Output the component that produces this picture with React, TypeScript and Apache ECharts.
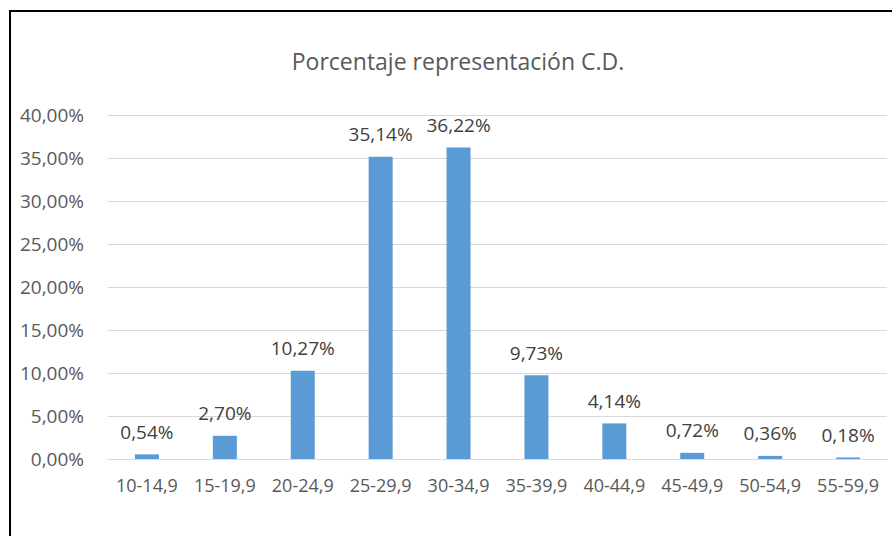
import React, { useEffect, useRef } from "react";
import * as echarts from "echarts";

const categories = ["10-14,9", "15-19,9", "20-24,9", "25-29,9", "30-34,9", "35-39,9", "40-44,9", "45-49,9", "50-54,9", "55-59,9"];
const values = [0.54, 2.7, 10.27, 35.14, 36.22, 9.73, 4.14, 0.72, 0.36, 0.18];
const titleText = "Porcentaje representación C.D.";

const fmt = (v: number) => v.toFixed(2).replace(".", ",") + "%";

export default function App() {
  const ref = useRef<HTMLDivElement>(null);
  useEffect(() => {
    const chart = echarts.init(ref.current!, undefined, { renderer: "svg" });
    const font = "Open Sans";
    chart.setOption({
      animation: false,
      backgroundColor: "#ffffff",
      textStyle: { fontFamily: font },
      title: {
        text: titleText,
        left: 453,
        top: 44,
        textAlign: "center",
        textStyle: { fontFamily: font, fontSize: 23, fontWeight: "normal", color: "#595959" },
      },
      graphic: [
        {
          type: "rect",
          shape: { x: 10, y: 11, width: 1000, height: 1000 },
          style: { fill: "none", stroke: "#000000", lineWidth: 2 },
          silent: true,
        },
      ],
      grid: { left: 108, right: 5, top: 115, bottom: 77, containLabel: false },
      xAxis: {
        type: "category",
        data: categories,
        axisLine: { show: true, lineStyle: { color: "#d9d9d9", width: 1 } },
        axisTick: { show: false },
        axisLabel: { color: "#595959", fontSize: 18, fontFamily: font, margin: 17, interval: 0 },
      },
      yAxis: {
        type: "value",
        min: 0,
        max: 40,
        interval: 5,
        axisLine: { show: false },
        axisTick: { show: false },
        splitLine: { lineStyle: { color: "#d9d9d9", width: 1 } },
        axisLabel: { color: "#595959", fontSize: 19, fontFamily: font, margin: 24, formatter: (v: number) => fmt(v) },
      },
      series: [
        {
          type: "bar",
          data: values,
          barWidth: 24,
          itemStyle: { color: "#5b9bd5" },
          label: {
            show: true,
            position: "top",
            distance: 13,
            color: "#404040",
            fontSize: 19,
            fontFamily: font,
            formatter: (p: any) => fmt(p.value),
          },
        },
      ],
    });
    return () => chart.dispose();
  }, []);
  return <div ref={ref} style={{ position: "absolute", left: 0, top: 0, width: 892, height: 536 }} />;
}
